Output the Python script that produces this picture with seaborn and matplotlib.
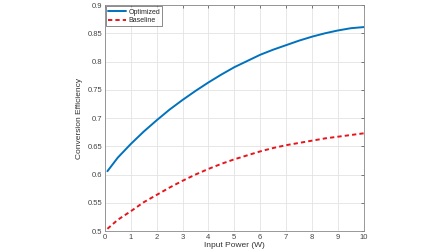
import numpy as np
import pandas as pd
import matplotlib
matplotlib.use("Agg")
import matplotlib.pyplot as plt
import seaborn as sns

# values
power = [0.1, 0.5, 1, 1.5, 2, 2.5, 3, 3.5, 4, 4.5, 5, 5.5, 6, 6.5, 7, 7.5, 8, 8.5, 9, 9.5, 10]
optimized = [0.606, 0.630, 0.654, 0.676, 0.696, 0.715, 0.732, 0.748, 0.763, 0.777, 0.790,
             0.801, 0.812, 0.821, 0.829, 0.837, 0.844, 0.850, 0.855, 0.859, 0.861]
baseline = [0.504, 0.520, 0.535, 0.551, 0.564, 0.577, 0.589, 0.600, 0.610, 0.619, 0.627,
            0.634, 0.641, 0.647, 0.652, 0.656, 0.660, 0.664, 0.667, 0.670, 0.673]

df = pd.DataFrame({"Input Power (W)": power + power,
                   "Conversion Efficiency": optimized + baseline,
                   "series": ["Optimized"] * len(power) + ["Baseline"] * len(power)})

sns.set_style("white")
plt.rcParams['font.family'] = ['Liberation Sans', 'DejaVu Sans']

fig = plt.figure(figsize=(4.48, 2.52), dpi=100)
ax = fig.add_axes([0.234, 0.083, 0.578, 0.897])

sns.lineplot(data=df, x="Input Power (W)", y="Conversion Efficiency", hue="series",
             style="series", palette={"Optimized": "#0072BD", "Baseline": "#E8141B"},
             dashes={"Optimized": "", "Baseline": (2.2, 1.6)}, linewidth=1.4, ax=ax)

ax.set_xlim(0, 10)
ax.set_ylim(0.5, 0.9)
ax.set_xticks(np.arange(0, 11, 1))
ax.set_yticks(np.arange(0.5, 0.91, 0.05))
ax.set_yticklabels(["0.5", "0.55", "0.6", "0.65", "0.7", "0.75", "0.8", "0.85", "0.9"])
ax.grid(True, color="#e3e3e3", linewidth=0.6)
ax.tick_params(direction="in", length=2.5, width=0.5, labelsize=5.5, colors="#444444",
               top=True, right=True, pad=2)
for s in ax.spines.values():
    s.set_color("#888888")
    s.set_linewidth(0.6)
ax.set_xlabel("Input Power (W)", fontsize=6, color="#333333", labelpad=1)
ax.set_ylabel("Conversion Efficiency", fontsize=6, color="#333333", labelpad=3)

leg = ax.legend(loc="upper left", fontsize=5, frameon=True, fancybox=False,
                handlelength=2.6, handletextpad=0.3, borderpad=0.3, labelspacing=0.25,
                borderaxespad=0.2)
leg.get_frame().set_edgecolor("#333333")
leg.get_frame().set_linewidth(0.5)

fig.savefig("out.png", dpi=100)
